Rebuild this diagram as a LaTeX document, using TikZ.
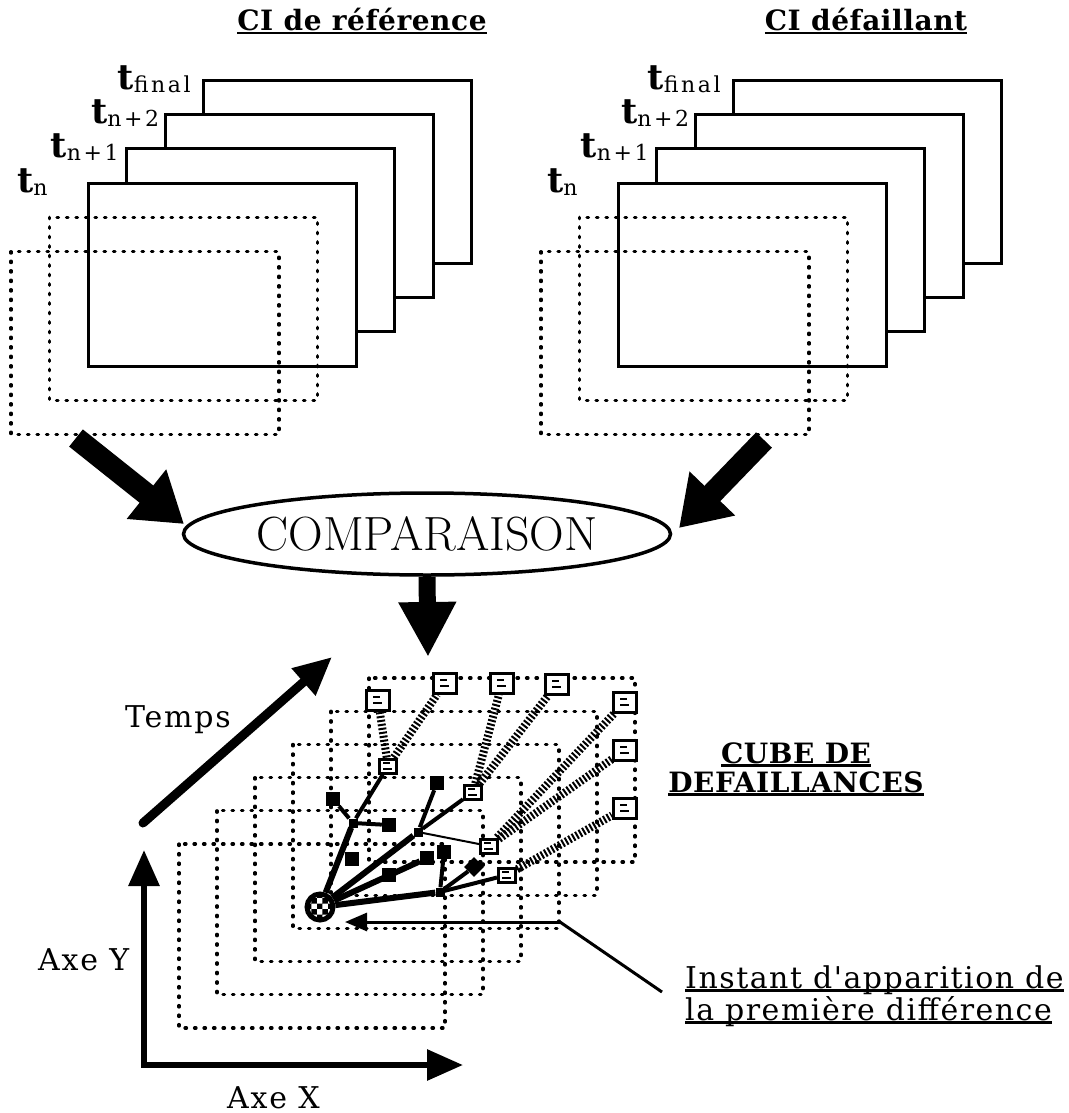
\documentclass[tikz,border=0pt]{standalone}
\usepackage{fontspec}
\newfontfamily\bookfont{DejaVu Serif}
\usetikzlibrary{arrows.meta,shapes.geometric,patterns,positioning}

\newcommand\ulin[1]{\setbox0=\hbox{#1}\rlap{\rule[-3.5pt]{\wd0}{2.2pt}}\box0}
\newcommand\tlab[1]{{\bfseries\fontsize{35}{35}\selectfont t}%
  \raisebox{-3pt}{\fontsize{22}{22}\selectfont\addfontfeature{LetterSpace=12}#1}}

\tikzset{
  ciframe/.style={draw, line width=3, fill=white},
  dotframe/.style={draw, line width=3.2, dash pattern=on 1.5pt off 8pt, line cap=round},
  fatarrow/.style={line width=22, -{Triangle[length=48pt,width=60pt]}},
  cititle/.style={font=\bookfont\bfseries\fontsize{28}{30}\selectfont\addfontfeature{LetterSpace=2}, inner sep=0, anchor=base},
  axlabel/.style={font=\bookfont\fontsize{30}{34}\selectfont\addfontfeature{LetterSpace=6}, inner sep=0, anchor=base west},
  tlabel/.style={font=\bookfont, inner sep=0, anchor=base west},
  rootdot/.style={circle, draw=black, line width=5, minimum size=26, inner sep=0,
    pattern=checkerboard, pattern color=black},
  bsq/.style={fill=black, minimum size=14, inner sep=0},
  junc/.style={fill=black, minimum size=9, inner sep=0},
  osq/.style={draw, line width=3, fill=white, minimum width=23, minimum height=20, inner sep=0,
    path picture={\draw[line width=2]
      ([shift={(-5pt,3pt)}]path picture bounding box.center) -- ++(7pt,0pt)
      ([shift={(-5pt,-2.5pt)}]path picture bounding box.center) -- ++(9pt,0pt);}},
  msq/.style={osq, minimum width=17, minimum height=14},
  trunk/.style={line width=6},
  branch/.style={line width=4},
  twig/.style={line width=2},
  rope/.style={line width=8, dash pattern=on 2pt off 2pt},
}

\begin{document}
\begin{tikzpicture}[x=1pt, y=-1pt]
\useasboundingbox (0,0) rectangle (1068,1113);

% stacks of frames
\foreach \gx/\g in {88/ref, 618/def} {
  \foreach \k in {3,2,1,0}
    \draw[ciframe] (\gx+38.5*\k, 183-34.3*\k) rectangle ++(268,183);
  \foreach \k in {1,2}
    \draw[dotframe] (\gx-38.5*\k, 183+34.3*\k) rectangle ++(268,183);
  \foreach \k/\sub/\dx in {0/n/71, 1/n+1/76, 2/n+2/74, 3/final/86}
    \node[tlabel] (\g-t\k) at (\gx+38.5*\k-\dx, 183-34.3*\k+9) {\tlab{\sub}};
}
\node[cititle] (reftitle) at (362,31) {\ulin{CI de référence}};
\node[cititle] (deftitle) at (866,31) {\ulin{CI défaillant}};

% comparison
\node[ellipse, draw, line width=3.5, minimum width=487, minimum height=82, inner sep=0,
  font=\fontsize{48}{50}\selectfont\addfontfeature{LetterSpace=3}] (cmp) at (427,534) {COMPARAISON};
\coordinate (refout) at (76,438);
\coordinate (refin) at (184,524);
\coordinate (defout) at (764,440);
\coordinate (defin) at (679,528);
\coordinate (cubein) at (428,657);
\draw[fatarrow] (refout) -- (refin);
\draw[fatarrow] (defout) -- (defin);
\draw[fatarrow, line width=17, -{Triangle[length=55pt,width=54pt]}] (cmp.south) -- (cubein);

% cube
\foreach \k in {0,...,5}
  \draw[dotframe] (179+38*\k, 844-33.2*\k) rectangle ++(266,184);

% axes
\coordinate (origin) at (144,1065);
\coordinate (ytip) at (144,850);
\coordinate (xtip) at (463,1065);
\coordinate (tbase) at (143,823);
\coordinate (ttip) at (332,657);
\draw[line width=6, {Triangle[length=36pt,width=30pt]}-{Triangle[length=36pt,width=30pt]}]
  (ytip) -- (origin) -- (xtip);
\draw[line width=9, line cap=round, -{Triangle[length=38pt,width=34pt]}] (tbase) -- (ttip);
\node[axlabel] (temps) at (125,727) {Temps};
\node[axlabel] (axey) at (38,970) {Axe Y};
\node[axlabel] (axex) at (227,1108) {Axe X};

% failure tree
\node[rootdot] (root) at (320,907) {};
\node[junc] (j1) at (353,823) {};
\node[junc] (j2) at (418,832) {};
\node[junc] (j3) at (440,892) {};
\node[bsq] (s1) at (333,799) {};
\node[bsq] (s2) at (389,825) {};
\node[bsq] (s3) at (352,859) {};
\node[bsq] (s4) at (389,875) {};
\node[bsq] (s5) at (427,858) {};
\node[bsq] (s6) at (444,852) {};
\node[bsq] (s7) at (437,783) {};
\node[bsq, rotate=45] (s8) at (474,867) {};
\node[msq] (v1) at (388,766) {};
\node[msq] (v2) at (473,792) {};
\node[msq] (v3) at (489,846) {};
\node[msq] (v4) at (507,875) {};
\node[osq] (f1) at (378,700) {};
\node[osq] (f2) at (445,683) {};
\node[osq] (f3) at (502,683) {};
\node[osq] (f4) at (557,684) {};
\node[osq] (f5) at (625,702) {};
\node[osq] (f6) at (625,750) {};
\node[osq] (f7) at (625,808) {};

\draw[rope] (v1) -- (f1);
\draw[rope] (v1) -- (f2);
\draw[rope] (v2) -- (f3);
\draw[rope] (v2) -- (f4);
\draw[rope] (v3) -- (f5);
\draw[rope] (v3) -- (f6);
\draw[rope] (v4) -- (f7);

\draw[trunk] (root) -- (j1);
\draw[trunk] (root) -- (j2);
\draw[trunk] (root) -- (s5);
\draw[trunk] (root) -- (j3);
\draw[branch] (j1) -- (s1);
\draw[branch] (j1) -- (s2);
\draw[branch] (j1) -- (v1);
\draw[branch] (j2) -- (s7);
\draw[branch] (j2) -- (v2);
\draw[twig] (j2) -- (v3);
\draw[branch] (s6) -- (j3);
\draw[branch] (j3) -- (s8);
\draw[branch] (j3) -- (v4);

\node[cititle] (cube1) at (796,763) {\ulin{CUBE DE}};
\node[cititle] (cube2) at (796,792) {\ulin{DEFAILLANCES}};

% first difference
\coordinate (callbend) at (560,922);
\coordinate (calltip) at (345,922);
\coordinate (callend) at (662,992);
\draw[line width=3, -{Triangle[length=22pt,width=18pt]}] (callbend) -- (calltip);
\draw[line width=3] (callbend) -- (callend);
\node[axlabel, font=\bookfont\fontsize{30}{32}\selectfont\addfontfeature{LetterSpace=5}] (inst1) at (685,988) {\ulin{Instant d'apparition de}};
\node[axlabel, font=\bookfont\fontsize{30}{32}\selectfont\addfontfeature{LetterSpace=5}] (inst2) at (685,1020) {\ulin{la première différence}};
\end{tikzpicture}
\end{document}
